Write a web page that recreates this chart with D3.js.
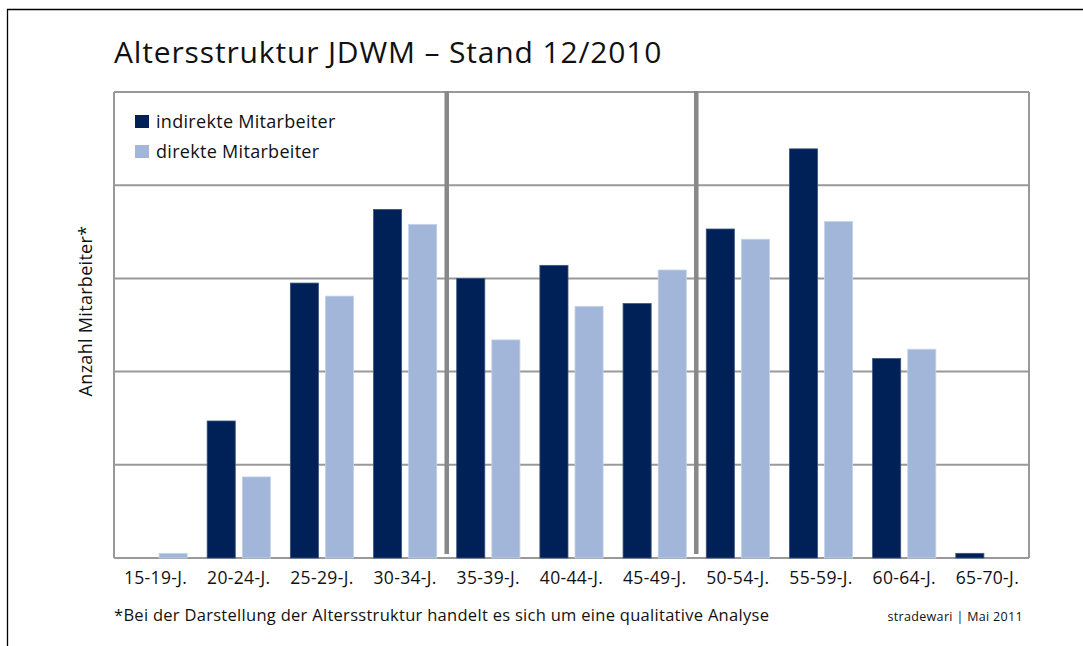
<!DOCTYPE html>
<html>
<head>
<meta charset="utf-8">
<script src="https://cdn.jsdelivr.net/npm/d3@7"></script>
<style>
  html, body { margin: 0; padding: 0; background: #fff; }
  svg { display: block; font-family: "Open Sans", "Noto Sans", sans-serif; }
</style>
</head>
<body>
<svg id="chart" width="1083" height="646"></svg>
<script>
// Altersgruppen
const categories = ["15-19-J.","20-24-J.","25-29-J.","30-34-J.","35-39-J.","40-44-J.","45-49-J.","50-54-J.","55-59-J.","60-64-J.","65-70-J."];
// geschätzte Werte (keine Achsenbeschriftung im Original)
const indirekt = [0, 14.7, 29.5, 37.4, 30.0, 31.4, 27.3, 35.3, 43.9, 21.4, 0.5];
const direkt   = [0.5, 8.7, 28.1, 35.8, 23.4, 27.0, 30.9, 34.2, 36.1, 22.4, 0];
const seriesNames = ["indirekte Mitarbeiter", "direkte Mitarbeiter"];
const seriesColors = ["#002157", "#a1b6d8"];
const yTicks = [0, 10, 20, 30, 40, 50];
// Trennlinien nach diesen Gruppen
const separatorsAfter = ["30-34-J.", "45-49-J."];

const svg = d3.select("#chart");
const plot = { left: 114, right: 1029, top: 92, bottom: 558 };

// Rahmen oben / links
svg.append("path")
  .attr("d", "M7.5,646 V9.5 H1083")
  .attr("fill", "none")
  .attr("stroke", "#000")
  .attr("stroke-width", 1.3);

svg.append("text")
  .attr("x", 114).attr("y", 63)
  .attr("font-size", 30)
  .attr("letter-spacing", 0.85)
  .attr("fill", "#111")
  .text("Altersstruktur JDWM – Stand 12/2010");

const x = d3.scaleBand()
  .domain(categories)
  .range([plot.left, plot.right])
  .paddingInner(0.24)
  .paddingOuter(0.12);

const xs = d3.scaleBand()
  .domain([0, 1])
  .range([0, x.bandwidth()])
  .paddingInner(0.2);

const y = d3.scaleLinear()
  .domain([0, 50])
  .range([plot.bottom, plot.top]);

// Gitterlinien
svg.append("g")
  .selectAll("line")
  .data(yTicks)
  .join("line")
  .attr("x1", plot.left).attr("x2", plot.right)
  .attr("y1", d => y(d)).attr("y2", d => y(d))
  .attr("stroke", "#999")
  .attr("stroke-width", 2);

svg.append("g")
  .selectAll("line")
  .data([plot.left, plot.right])
  .join("line")
  .attr("x1", d => d).attr("x2", d => d)
  .attr("y1", plot.top).attr("y2", plot.bottom)
  .attr("stroke", "#999")
  .attr("stroke-width", 2);

// Balken
const groups = svg.append("g")
  .selectAll("g")
  .data(categories)
  .join("g")
  .attr("transform", d => `translate(${x(d)},0)`);

groups.selectAll("rect")
  .data((d, i) => [indirekt[i], direkt[i]])
  .join("rect")
  .attr("x", (d, j) => xs(j))
  .attr("width", xs.bandwidth())
  .attr("y", d => y(d))
  .attr("height", d => y(0) - y(d))
  .attr("fill", (d, j) => seriesColors[j])
  .attr("stroke", (d, j) => j === 0 ? "#3a5482" : "#c4d2ea")
  .attr("stroke-width", 0.8);

// dicke Trennlinien
const step = x.step();
svg.append("g")
  .selectAll("line")
  .data(separatorsAfter)
  .join("line")
  .attr("x1", d => x(d) + x.bandwidth() + (step - x.bandwidth()) / 2)
  .attr("x2", d => x(d) + x.bandwidth() + (step - x.bandwidth()) / 2)
  .attr("y1", plot.top - 1).attr("y2", plot.bottom - 4)
  .attr("stroke", "#888")
  .attr("stroke-width", 4.5);

// x-Achse Beschriftung
svg.append("g")
  .selectAll("text")
  .data(categories)
  .join("text")
  .attr("x", d => x(d) + x.bandwidth() / 2)
  .attr("y", 584)
  .attr("text-anchor", "middle")
  .attr("font-size", 17.5)
  .attr("letter-spacing", 0.35)
  .attr("fill", "#111")
  .text(d => d);

// y-Achse Titel
svg.append("text")
  .attr("transform", "translate(92,311) rotate(-90)")
  .attr("text-anchor", "middle")
  .attr("font-size", 18)
  .attr("letter-spacing", 0.3)
  .attr("fill", "#111")
  .text("Anzahl Mitarbeiter*");

// Legende
const legend = svg.append("g")
  .selectAll("g")
  .data(seriesNames)
  .join("g")
  .attr("transform", (d, i) => `translate(135,${115 + i * 30})`);

legend.append("rect")
  .attr("width", 14).attr("height", 13)
  .attr("fill", (d, i) => seriesColors[i]);

legend.append("text")
  .attr("x", 21).attr("y", 12.5)
  .attr("font-size", 18)
  .attr("letter-spacing", 0.3)
  .attr("fill", "#111")
  .text(d => d);

// Fußnoten
svg.append("text")
  .attr("x", 114).attr("y", 621)
  .attr("font-size", 16.5)
  .attr("letter-spacing", 0.29)
  .attr("fill", "#111")
  .text("*Bei der Darstellung der Altersstruktur handelt es sich um eine qualitative Analyse");

svg.append("text")
  .attr("x", 1023).attr("y", 621)
  .attr("text-anchor", "end")
  .attr("font-size", 12.5)
  .attr("letter-spacing", 0.33)
  .attr("fill", "#111")
  .text("stradewari | Mai 2011");
</script>
</body>
</html>
